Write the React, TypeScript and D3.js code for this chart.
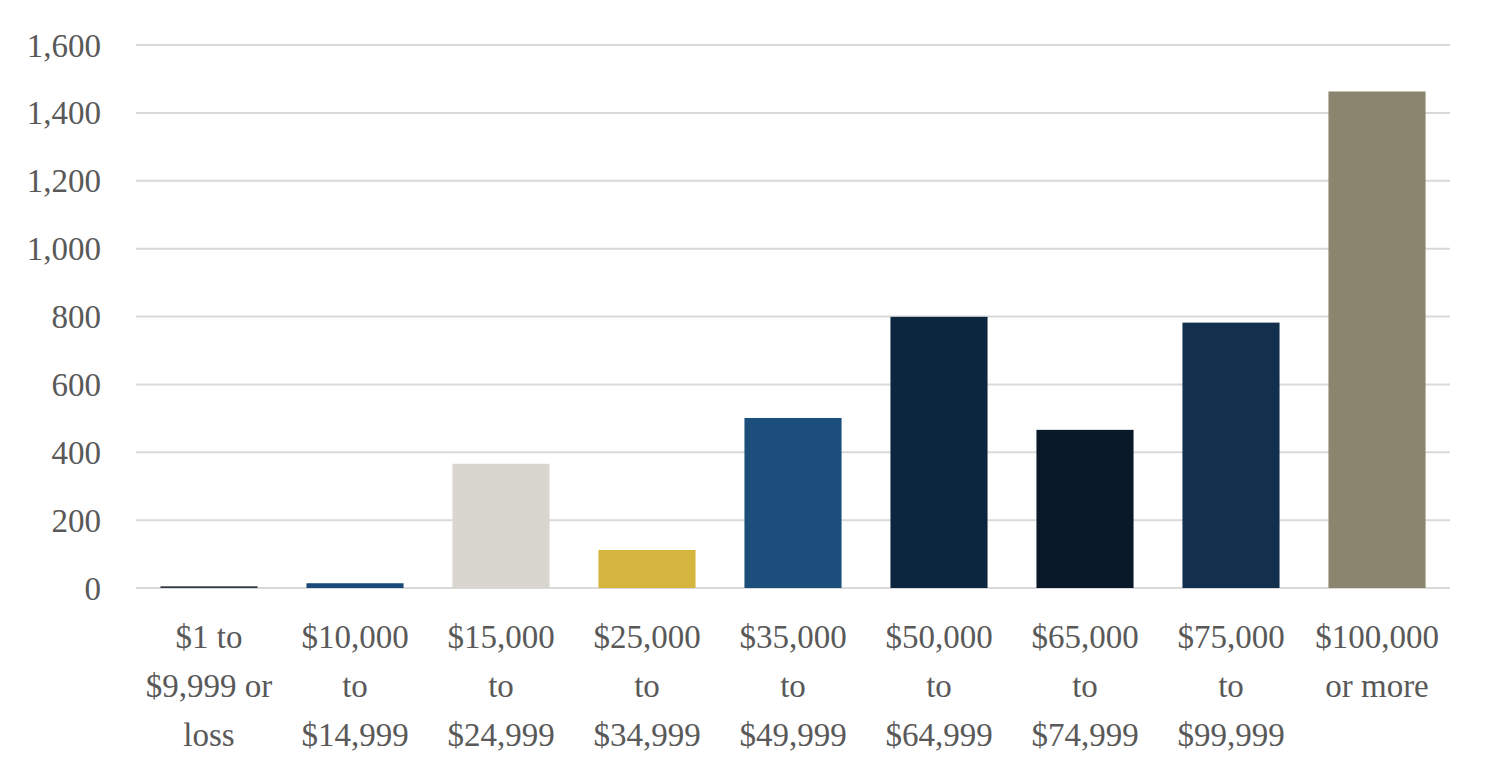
import React, { useEffect, useRef } from "react";
import * as d3 from "d3";

const WIDTH = 1486;
const HEIGHT = 771;
const MARGIN_LEFT = 136;
const MARGIN_RIGHT = 36;
const PLOT_TOP = 45;
const PLOT_BOTTOM = 588;

const categories = [
  ["$1 to", "$9,999 or", "loss"],
  ["$10,000", "to", "$14,999"],
  ["$15,000", "to", "$24,999"],
  ["$25,000", "to", "$34,999"],
  ["$35,000", "to", "$49,999"],
  ["$50,000", "to", "$64,999"],
  ["$65,000", "to", "$74,999"],
  ["$75,000", "to", "$99,999"],
  ["$100,000", "or more"],
];
const values = [5, 14, 366, 112, 501, 799, 466, 782, 1463];
const barColors = [
  "#2f3844",
  "#1a4a7a",
  "#d9d6d0",
  "#d5b53d",
  "#1b4e7b",
  "#0d2640",
  "#0a1929",
  "#12304d",
  "#8b846e",
];
const yTicks = [0, 200, 400, 600, 800, 1000, 1200, 1400, 1600];

const FONT = "'Liberation Serif', 'DejaVu Serif', serif";
const TEXT_COLOR = "#595959";
const FONT_SIZE = 33;

export default function App() {
  const gRef = useRef<SVGGElement>(null);

  useEffect(() => {
    const g = d3.select(gRef.current);
    g.selectAll("*").remove();

    const x = d3
      .scaleBand<number>()
      .domain(d3.range(values.length))
      .range([MARGIN_LEFT, WIDTH - MARGIN_RIGHT])
      .paddingInner(0.335)
      .paddingOuter(0.1675);

    const y = d3.scaleLinear().domain([0, 1600]).range([PLOT_BOTTOM, PLOT_TOP]);

    // gridlines
    g.append("g")
      .selectAll("line")
      .data(yTicks)
      .join("line")
      .attr("x1", MARGIN_LEFT)
      .attr("x2", WIDTH - MARGIN_RIGHT)
      .attr("y1", (d) => y(d))
      .attr("y2", (d) => y(d))
      .attr("stroke", "#d9d9d9")
      .attr("stroke-width", 2);

    // y tick labels
    g.append("g")
      .selectAll("text")
      .data(yTicks)
      .join("text")
      .attr("x", 101)
      .attr("y", (d) => y(d))
      .attr("dy", "0.35em")
      .attr("text-anchor", "end")
      .attr("font-family", FONT)
      .attr("font-size", FONT_SIZE)
      .attr("fill", TEXT_COLOR)
      .text((d) => d3.format(",")(d));

    // bars
    g.append("g")
      .selectAll("rect")
      .data(values)
      .join("rect")
      .attr("x", (_, i) => x(i)!)
      .attr("width", x.bandwidth())
      .attr("y", (d) => y(d))
      .attr("height", (d) => y(0) - y(d))
      .attr("fill", (_, i) => barColors[i]);

    // x labels
    const labels = g
      .append("g")
      .selectAll("text")
      .data(categories)
      .join("text")
      .attr("text-anchor", "middle")
      .attr("font-family", FONT)
      .attr("font-size", FONT_SIZE)
      .attr("fill", TEXT_COLOR)
      .attr("x", (_, i) => x(i)! + x.bandwidth() / 2)
      .attr("y", 648);

    labels
      .selectAll("tspan")
      .data((d) => d)
      .join("tspan")
      .attr("x", function () {
        return (this.parentNode as SVGTextElement).getAttribute("x");
      })
      .attr("y", (_, j) => 648 + j * 49)
      .text((d) => d);
  }, []);

  return (
    <svg width={WIDTH} height={HEIGHT} style={{ display: "block", margin: -8 }}>
      <rect width={WIDTH} height={HEIGHT} fill="#fff" />
      <g ref={gRef}></g>
    </svg>
  );
}
